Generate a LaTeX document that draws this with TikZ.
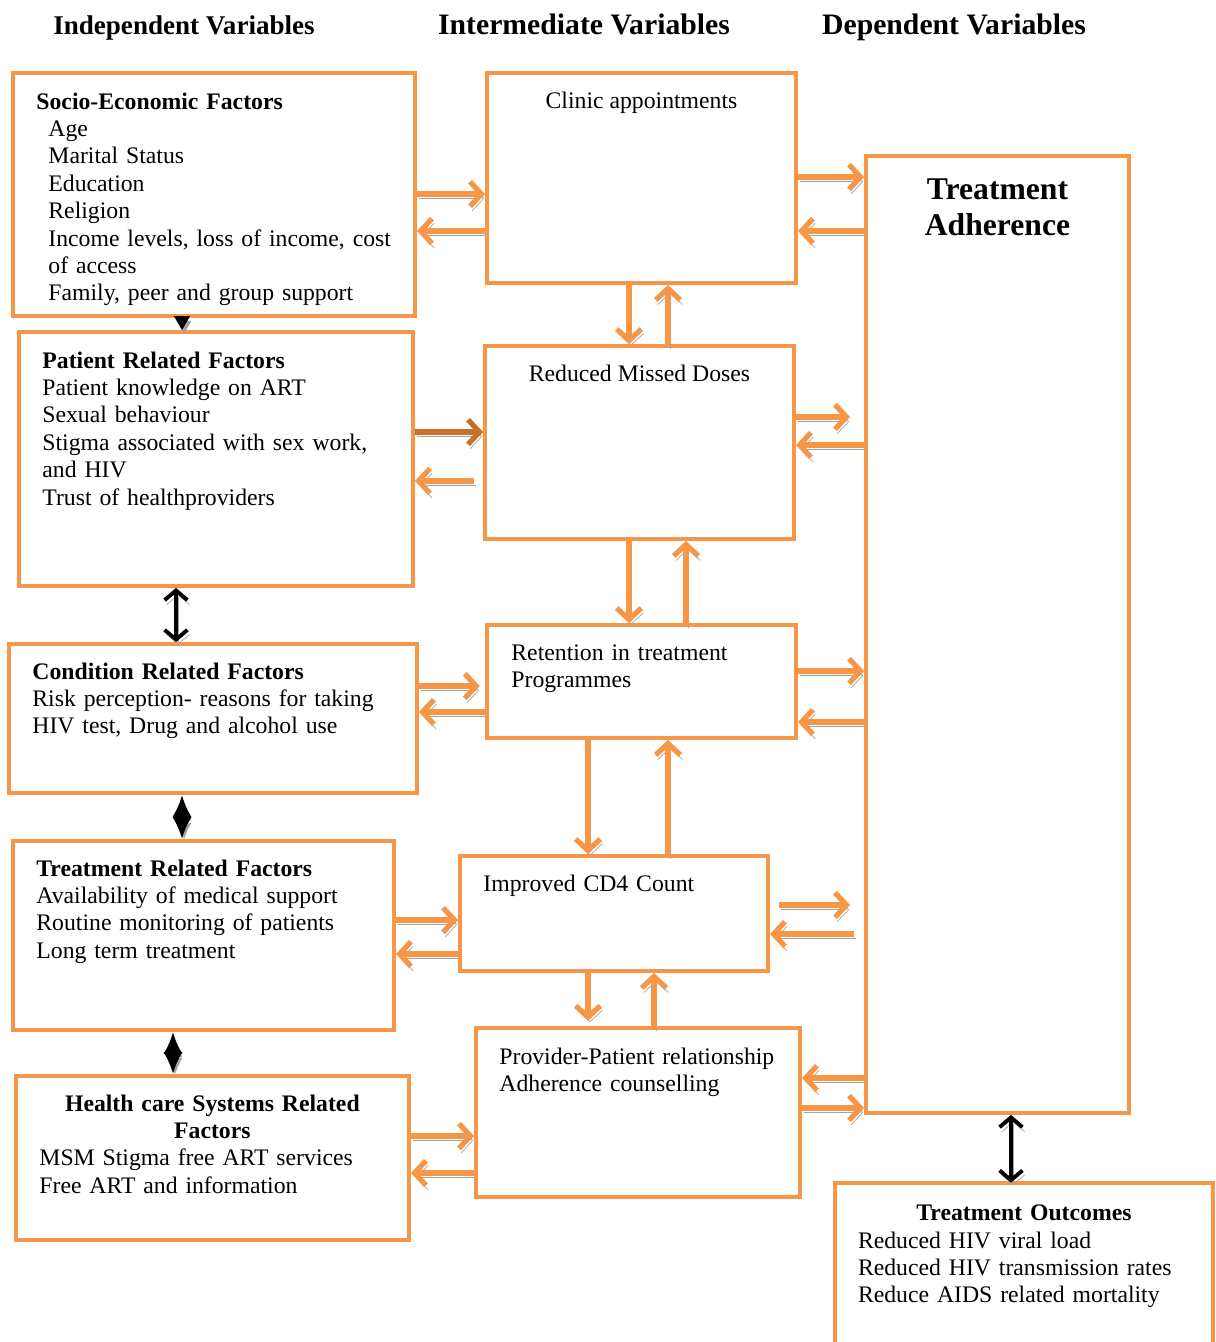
\documentclass[tikz,border=0pt]{standalone}
\usepackage{fontspec}
\setmainfont{Liberation Serif}
\usetikzlibrary{arrows.meta,fit,positioning}
\definecolor{boxorange}{HTML}{F79646}
\definecolor{darkorange}{HTML}{C8702E}
\definecolor{shadowgray}{HTML}{A3A3A3}
\newcommand*\bodyfont{\fontsize{13.5pt}{15.6pt}\selectfont}
\newcommand*\headfont{\fontsize{16.9pt}{19pt}\selectfont\bfseries}
\newcommand*\bigfont{\fontsize{18pt}{21pt}\selectfont\bfseries}
\tikzset{
  box/.style={draw=boxorange,line width=2.2pt,inner sep=0pt},
  txt/.style={anchor=base west,inner sep=0pt,align=left,font=\bodyfont},
  ctxt/.style={anchor=base,inner sep=0pt,align=center,font=\bodyfont},
  shadow/.style={preaction={draw=shadowgray,transform canvas={xshift=1.2pt,yshift=-2.6pt}}},
  flow/.style={draw=boxorange,line width=3pt,shadow,
    -{Straight Barb[length=6.5pt,width=14pt]}},
  flowdark/.style={flow,draw=darkorange},
  twoway/.style={draw=black,line width=2.2pt,shadow,
    {Straight Barb[length=5.5pt,width=13pt]}-{Straight Barb[length=5.5pt,width=13pt]}},
  diamond arrow/.style={draw=black,line width=1.8pt,shadow,
    {Latex[length=12.5pt,width=11pt]}-{Latex[length=12.5pt,width=11pt]}}
}
\begin{document}
\begin{tikzpicture}[x=0.02cm,y=-0.02cm,line cap=butt]
\useasboundingbox (0,0) rectangle (1216,1342);

% column headings
\node[anchor=base,font=\headfont\fontsize{15.4pt}{19pt}\selectfont] (hind) at (184,34) {Independent Variables};
\node[anchor=base,font=\headfont] (hint) at (584,34) {Intermediate Variables};
\node[anchor=base,font=\headfont] (hdep) at (954,34) {Dependent Variables};

% independent variables
\node[box,fit={(13,73) (415,316)}] (socio) {};
\node[box,fit={(19,332) (413,586)}] (patient) {};
\node[box,fit={(9,644) (417,793)}] (condition) {};
\node[box,fit={(13,841) (394,1030)}] (treat) {};
\node[box,fit={(16,1076) (409,1240)}] (health) {};

% intermediate variables
\node[box,fit={(487,73) (796,283)}] (clinic) {};
\node[box,fit={(485,346) (794,539)}] (missed) {};
\node[box,fit={(487,625) (796,738)}] (retention) {};
\node[box,fit={(460,856) (768,971)}] (cd4) {};
\node[box,fit={(476,1028) (800,1197)}] (provider) {};

% dependent variables
\node[box,fit={(866,156) (1129,1113)}] (adher) {};
\node[inner sep=0pt,fit={(835,1183) (1213,1342)}] (outcome) {};
\draw[draw=boxorange,line width=2.2pt] (outcome.south west) |- (outcome.north east) -- (outcome.south east);

% box texts
\node[txt,text width=7cm] (sociotxt) at ([shift={(37,38)}]socio.north west)
  {\hspace*{-0.24cm}\textbf{Socio-Economic Factors}\\Age\\Marital Status\\Education\\Religion\\
   Income levels, loss of income, cost\\of access\\Family, peer and group support};
\node[txt,text width=7.2cm] (patienttxt) at ([shift={(25,38)}]patient.north west)
  {\textbf{Patient Related Factors}\\Patient knowledge on ART\\Sexual behaviour\\
   Stigma associated with sex work,\\and HIV\\Trust of healthproviders};
\node[txt,text width=7.4cm] (conditiontxt) at ([shift={(25,37)}]condition.north west)
  {\textbf{Condition Related Factors}\\Risk perception- reasons for taking\\HIV test, Drug and alcohol use};
\node[txt,text width=7cm] (treattxt) at ([shift={(25,37)}]treat.north west)
  {\textbf{Treatment Related Factors}\\Availability of medical support\\Routine monitoring of patients\\Long term treatment};
\node[txt,text width=6.92cm] (healthtxt) at ([shift={(25,37)}]health.north west)
  {{\centering\bfseries Health care Systems Related\\Factors\par}MSM Stigma free ART services\\Free ART and information};
\node[ctxt] (clinictxt) at ([shift={(0,37)}]clinic.north) {Clinic appointments};
\node[ctxt] (missedtxt) at ([shift={(0,37)}]missed.north) {Reduced Missed Doses};
\node[txt,text width=5.6cm] (retentiontxt) at ([shift={(26,37)}]retention.north west)
  {Retention in treatment\\Programmes};
\node[txt,text width=5.6cm] (cd4txt) at ([shift={(25,37)}]cd4.north west) {Improved CD4 Count};
\node[txt,text width=5.9cm] (providertxt) at ([shift={(25,38)}]provider.north west)
  {Provider-Patient relationship\\Adherence counselling};
\node[anchor=base,inner sep=0pt,align=center,text width=4.6cm,font=\bigfont] (adhertxt) at ([shift={(0,45)}]adher.north)
  {Treatment\\Adherence};
\node[txt,text width=6.64cm] (outcometxt) at ([shift={(23,38)}]outcome.north west)
  {{\centering\bfseries Treatment Outcomes\par}Reduced HIV viral load\\Reduced HIV transmission rates\\Reduce AIDS related mortality};

% independent <-> intermediate
\draw[flow] (socio.east |- 0,194) -- (clinic.west |- 0,194);
\draw[flow] (clinic.west |- 0,231) -- (socio.east |- 0,231);
\draw[flowdark] (patient.east |- 0,432) -- (missed.west |- 0,432);
\draw[flow,shorten <=5] (missed.west |- 0,481) -- (patient.east |- 0,481);
\draw[flow,shorten >=3] (condition.east |- 0,686) -- (retention.west |- 0,686);
\draw[flow] (retention.west |- 0,712) -- (condition.east |- 0,712);
\draw[flow] (treat.east |- 0,920) -- (cd4.west |- 0,920);
\draw[flow] (cd4.west |- 0,954) -- (treat.east |- 0,954);
\draw[flow] (health.east |- 0,1136) -- (provider.west |- 0,1136);
\draw[flow] (provider.west |- 0,1173) -- (health.east |- 0,1173);

% intermediate <-> adherence
\draw[flow] (clinic.east |- 0,177) -- (adher.west |- 0,177);
\draw[flow] (adher.west |- 0,231) -- (clinic.east |- 0,231);
\draw[flow,shorten >=8] (missed.east |- 0,417) -- (adher.west |- 0,417);
\draw[flow] (adher.west |- 0,445) -- (missed.east |- 0,445);
\draw[flow] (retention.east |- 0,671) -- (adher.west |- 0,671);
\draw[flow] (adher.west |- 0,722) -- (retention.east |- 0,722);
\draw[flow,shorten <=5,shorten >=8] (cd4.east |- 0,905) -- (adher.west |- 0,905);
\draw[flow,shorten <=6] (adher.west |- 0,934) -- (cd4.east |- 0,934);
\draw[flow] (adher.west |- 0,1078) -- (provider.east |- 0,1078);
\draw[flow] (provider.east |- 0,1108) -- (adher.west |- 0,1108);

% intermediate chain
\draw[flow] (clinic.south -| 629,0) -- (missed.north -| 629,0);
\draw[flow] (missed.north -| 668,0) -- (clinic.south -| 668,0);
\draw[flow] (missed.south -| 629,0) -- (retention.north -| 629,0);
\draw[flow] (retention.north -| 686,0) -- (missed.south -| 686,0);
\draw[flow] (retention.south -| 588,0) -- (cd4.north -| 588,0);
\draw[flow] (cd4.north -| 668,0) -- (retention.south -| 668,0);
\draw[flow,shorten >=3] (cd4.south -| 588,0) -- (provider.north -| 588,0);
\draw[flow] (provider.north -| 654,0) -- (cd4.south -| 654,0);

% black links
\draw[draw=black,line width=1pt,shadow,-{Triangle[length=8pt,width=9pt]}] (socio.south -| 182,0) -- (patient.north -| 182,0);
\draw[twoway] (patient.south -| 176,0) -- (condition.north -| 176,0);
\draw[diamond arrow] (condition.south -| 182,0) -- (treat.north -| 182,0);
\draw[diamond arrow] (treat.south -| 173,0) -- (health.north -| 173,0);
\draw[twoway] (adher.south -| 1011,0) -- (outcome.north -| 1011,0);
\end{tikzpicture}
\end{document}
